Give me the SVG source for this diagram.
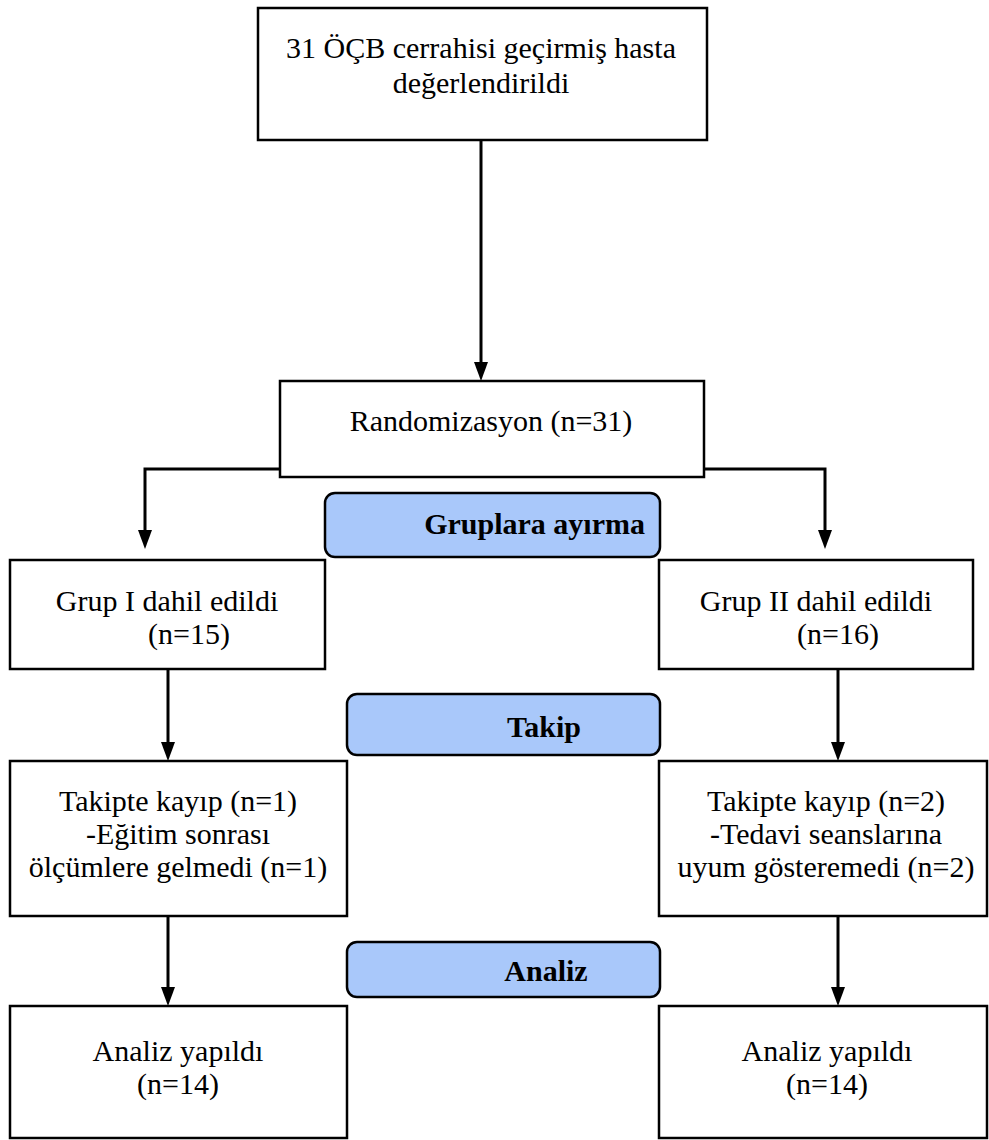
<svg xmlns="http://www.w3.org/2000/svg" width="989" height="1140" viewBox="0 0 989 1140">
<style>
.box{fill:#fff;stroke:#000;stroke-width:2.5}
.lbl{fill:#a9c8fa;stroke:#000;stroke-width:2.5}
.t{font-family:"Liberation Serif","Times New Roman",serif;font-size:30px;fill:#000;text-anchor:middle}
.b{font-family:"Liberation Serif","Times New Roman",serif;font-size:30px;font-weight:bold;fill:#000;text-anchor:middle}
.c{fill:none;stroke:#000;stroke-width:3}
.ah{fill:#000}
</style>
<rect width="989" height="1140" fill="#fff"/>
<g id="connectors">
<path class="c" d="M481,140 V364"/>
<path class="c" d="M280,469 H145 V531"/>
<path class="c" d="M704,469 H825 V531"/>
<path class="c" d="M168,669 V743"/>
<path class="c" d="M838,669 V743"/>
<path class="c" d="M168,916 V988"/>
<path class="c" d="M838,916 V988"/>
<path class="ah" d="M474,362 L488,362 L481,381 Z"/>
<path class="ah" d="M138,530 L152,530 L145,549 Z"/>
<path class="ah" d="M818,530 L832,530 L825,549 Z"/>
<path class="ah" d="M161,742 L175,742 L168,761 Z"/>
<path class="ah" d="M831,742 L845,742 L838,761 Z"/>
<path class="ah" d="M161,987 L175,987 L168,1006 Z"/>
<path class="ah" d="M831,987 L845,987 L838,1006 Z"/>
</g>
<g id="n-top">
<rect class="box" x="258" y="8" width="449" height="132"/>
<text class="t" x="481" y="58">31 ÖÇB cerrahisi geçirmiş hasta</text>
<text class="t" x="481" y="93">değerlendirildi</text>
</g>
<g id="n-random">
<rect class="box" x="280" y="381" width="424" height="96"/>
<text class="t" x="491" y="431">Randomizasyon (n=31)</text>
</g>
<g id="n-gruplara">
<rect class="lbl" x="325" y="493" width="335" height="64" rx="10"/>
<text class="b" x="645" y="534" style="text-anchor:end">Gruplara ayırma</text>
</g>
<g id="n-grup1">
<rect class="box" x="10" y="560" width="315" height="109"/>
<text class="t" x="167" y="611">Grup I dahil edildi</text>
<text class="t" x="189" y="644">(n=15)</text>
</g>
<g id="n-grup2">
<rect class="box" x="659" y="560" width="314" height="109"/>
<text class="t" x="816" y="611">Grup II dahil edildi</text>
<text class="t" x="838" y="644">(n=16)</text>
</g>
<g id="n-takip">
<rect class="lbl" x="347" y="694" width="313" height="61" rx="10"/>
<text class="b" x="544" y="737">Takip</text>
</g>
<g id="n-kayip1">
<rect class="box" x="10" y="761" width="337" height="155"/>
<text class="t" x="178" y="811">Takipte kayıp (n=1)</text>
<text class="t" x="178" y="844">-Eğitim sonrası</text>
<text class="t" x="178" y="877">ölçümlere gelmedi (n=1)</text>
</g>
<g id="n-kayip2">
<rect class="box" x="659" y="761" width="328" height="155"/>
<text class="t" x="826" y="811">Takipte kayıp (n=2)</text>
<text class="t" x="826" y="844">-Tedavi seanslarına</text>
<text class="t" x="826" y="877">uyum gösteremedi (n=2)</text>
</g>
<g id="n-analiz">
<rect class="lbl" x="347" y="942" width="313" height="55" rx="10"/>
<text class="b" x="546" y="981">Analiz</text>
</g>
<g id="n-analiz1">
<rect class="box" x="10" y="1006" width="337" height="132"/>
<text class="t" x="178" y="1061">Analiz yapıldı</text>
<text class="t" x="178" y="1094">(n=14)</text>
</g>
<g id="n-analiz2">
<rect class="box" x="659" y="1006" width="328" height="132"/>
<text class="t" x="827" y="1061">Analiz yapıldı</text>
<text class="t" x="827" y="1094">(n=14)</text>
</g>
</svg>
